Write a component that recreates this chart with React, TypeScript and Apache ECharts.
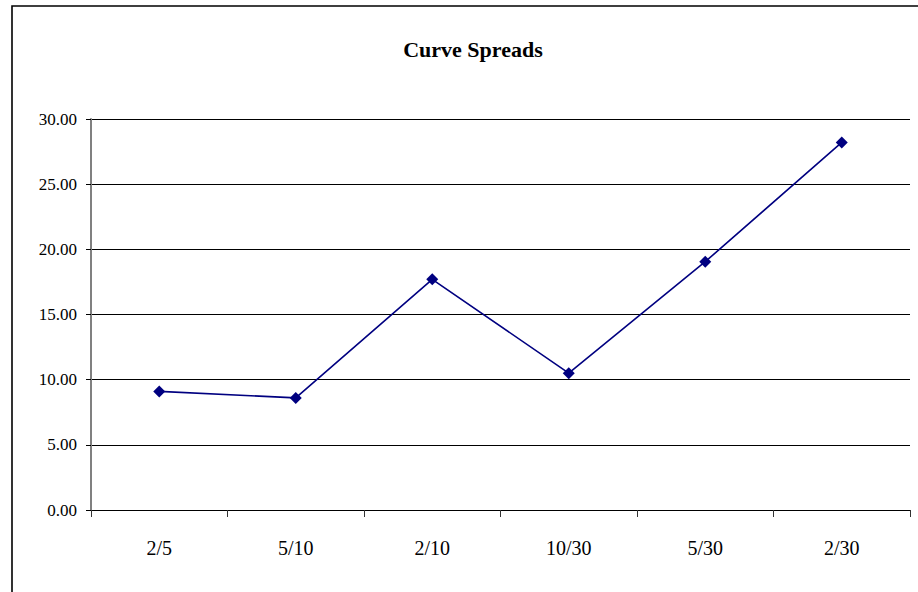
import React, { useEffect, useRef } from "react";
import * as echarts from "echarts";

// Curve spread pairs and their values
const categories = ["2/5", "5/10", "2/10", "10/30", "5/30", "2/30"];
const spreads = [9.1, 8.6, 17.7, 10.5, 19.05, 28.2];
const titleText = "Curve Spreads";
const yMin = 0;
const yMax = 30;
const yStep = 5;

const FONT = "'Liberation Serif', 'Times New Roman', serif";

export default function App() {
  const ref = useRef<HTMLDivElement>(null);

  useEffect(() => {
    if (!ref.current) return;
    const chart = echarts.init(ref.current, null, { renderer: "svg" });
    chart.setOption({
      animation: false,
      backgroundColor: "#ffffff",
      textStyle: { fontFamily: FONT },
      graphic: [
        {
          type: "rect",
          silent: true,
          shape: { x: 12, y: 6, width: 1000, height: 1000 },
          style: { fill: "none", stroke: "#000", lineWidth: 1.6 },
        },
        {
          type: "text",
          x: 473,
          y: 49,
          style: {
            text: titleText,
            fontFamily: FONT,
            fontSize: 22,
            fontWeight: "bold",
            fill: "#000",
            textAlign: "center",
            textVerticalAlign: "middle",
          },
        },
      ],
      grid: { left: 91, right: 8, top: 119, bottom: 82, containLabel: false },
      xAxis: {
        type: "category",
        data: categories,
        boundaryGap: true,
        axisLine: { lineStyle: { color: "#000", width: 1 } },
        axisTick: { show: true, length: 7, lineStyle: { color: "#333" } },
        axisLabel: { color: "#000", fontSize: 20, margin: 28, fontFamily: FONT },
        splitLine: { show: false },
      },
      yAxis: {
        type: "value",
        min: yMin,
        max: yMax,
        interval: yStep,
        axisLine: { show: true, lineStyle: { color: "#808080", width: 2 } },
        axisTick: { show: true, length: 5, lineStyle: { color: "#000" } },
        axisLabel: {
          color: "#000",
          fontSize: 17,
          margin: 14,
          fontFamily: FONT,
          formatter: (v: number) => v.toFixed(2),
        },
        splitLine: { show: true, lineStyle: { color: "#000", width: 1 } },
      },
      series: [
        {
          type: "line",
          data: spreads,
          symbol: "diamond",
          symbolSize: 12,
          lineStyle: { color: "#000080", width: 1.6 },
          itemStyle: { color: "#000080" },
          z: 5,
        },
      ],
    });
    return () => chart.dispose();
  }, []);

  return (
    <div
      ref={ref}
      style={{ position: "absolute", left: 0, top: 0, width: 918, height: 592 }}
    />
  );
}
